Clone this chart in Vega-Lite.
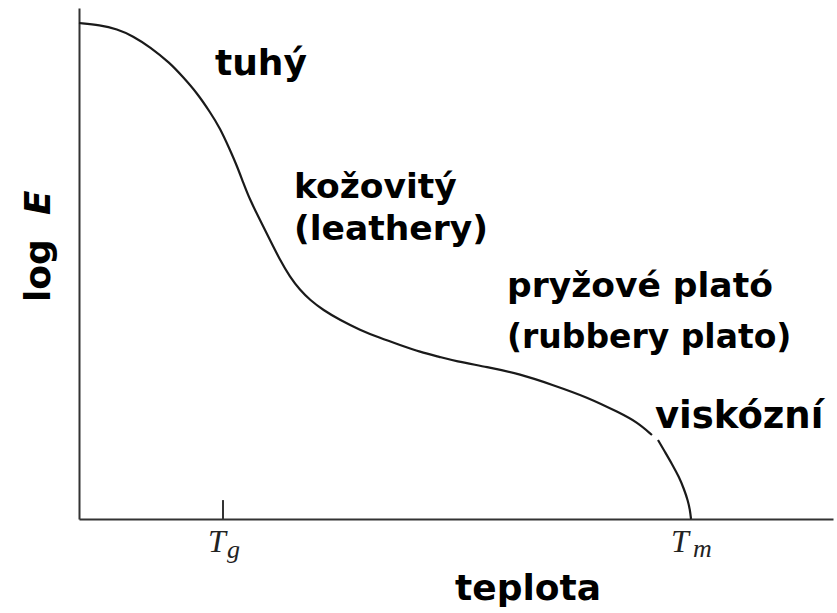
{
  "$schema": "https://vega.github.io/schema/vega-lite/v6.json",
  "width": 754,
  "height": 511,
  "autosize": "none",
  "padding": {"left": 79, "top": 8, "right": 4, "bottom": 94},
  "background": "white",
  "config": {"view": {"stroke": null}, "font": "DejaVu Sans"},
  "datasets": {
    "curve": [
      {"seg": "a", "t": 0, "logE": 97.06},
      {"seg": "a", "t": 2.79, "logE": 96.67},
      {"seg": "a", "t": 5.04, "logE": 95.89},
      {"seg": "a", "t": 7.16, "logE": 94.52},
      {"seg": "a", "t": 9.42, "logE": 92.37},
      {"seg": "a", "t": 12.07, "logE": 89.24},
      {"seg": "a", "t": 13.79, "logE": 86.5},
      {"seg": "a", "t": 15.65, "logE": 83.37},
      {"seg": "a", "t": 17.37, "logE": 79.65},
      {"seg": "a", "t": 18.7, "logE": 76.52},
      {"seg": "a", "t": 20.03, "logE": 72.21},
      {"seg": "a", "t": 20.95, "logE": 69.08},
      {"seg": "a", "t": 21.75, "logE": 65.95},
      {"seg": "a", "t": 22.68, "logE": 62.43},
      {"seg": "a", "t": 24.01, "logE": 58.51},
      {"seg": "a", "t": 25.33, "logE": 54.6},
      {"seg": "a", "t": 26.66, "logE": 50.68},
      {"seg": "a", "t": 27.98, "logE": 47.36},
      {"seg": "a", "t": 29.31, "logE": 44.81},
      {"seg": "a", "t": 30.64, "logE": 42.86},
      {"seg": "a", "t": 32.36, "logE": 40.9},
      {"seg": "a", "t": 34.62, "logE": 38.94},
      {"seg": "a", "t": 37.27, "logE": 36.99},
      {"seg": "a", "t": 39.92, "logE": 35.42},
      {"seg": "a", "t": 42.57, "logE": 34.05},
      {"seg": "a", "t": 45.23, "logE": 32.68},
      {"seg": "a", "t": 47.88, "logE": 31.7},
      {"seg": "a", "t": 49.87, "logE": 30.92},
      {"seg": "a", "t": 54.11, "logE": 29.75},
      {"seg": "a", "t": 58.49, "logE": 28.38},
      {"seg": "a", "t": 62.86, "logE": 26.22},
      {"seg": "a", "t": 67.37, "logE": 23.87},
      {"seg": "a", "t": 71.75, "logE": 20.74},
      {"seg": "a", "t": 73.99, "logE": 18.98},
      {"seg": "a", "t": 75.99, "logE": 16.44},
      {"seg": "b", "t": 76.79, "logE": 15.46},
      {"seg": "b", "t": 77.72, "logE": 13.11},
      {"seg": "b", "t": 78.65, "logE": 10.76},
      {"seg": "b", "t": 79.58, "logE": 8.22},
      {"seg": "b", "t": 80.24, "logE": 5.87},
      {"seg": "b", "t": 80.77, "logE": 3.52},
      {"seg": "b", "t": 81.03, "logE": 1.76},
      {"seg": "b", "t": 81.17, "logE": 0}
    ],
    "ticks": [
      {"name": "Tg", "t": 19.1, "lo": 0, "hi": 3.7}
    ],
    "labels": [
      {"id": "tuhy", "text": "tuhý", "t": 18.04, "logE": 86.89},
      {"id": "kozovity", "text": "kožovitý", "t": 28.51, "logE": 62.82},
      {"id": "leathery", "text": "(leathery)", "t": 28.51, "logE": 54.6},
      {"id": "pryzove", "text": "pryžové plató", "t": 56.76, "logE": 43.44},
      {"id": "rubbery", "text": "(rubbery plato)", "t": 56.76, "logE": 33.46},
      {"id": "viskozni", "text": "viskózní", "t": 76.39, "logE": 17.81},
      {"id": "teplota", "text": "teplota", "t": 49.87, "logE": -15.85},
      {"id": "log", "text": "log", "t": -3.85, "logE": 42.47},
      {"id": "E", "text": "E", "t": -3.85, "logE": 59.49},
      {"id": "T1", "text": "T", "t": 17.1, "logE": -6.46},
      {"id": "g", "text": "g", "t": 19.63, "logE": -7.63},
      {"id": "T2", "text": "T", "t": 78.5, "logE": -6.46},
      {"id": "m", "text": "m", "t": 81.43, "logE": -7.44}
    ]
  },
  "encoding": {
    "x": {"field": "t", "type": "quantitative", "scale": {"domain": [0, 100], "nice": false, "zero": false},
      "axis": {"title": null, "labels": false, "ticks": false, "grid": false, "domainColor": "#333333", "domainWidth": 2}},
    "y": {"field": "logE", "type": "quantitative", "scale": {"domain": [0, 100], "nice": false, "zero": false},
      "axis": {"title": null, "labels": false, "ticks": false, "grid": false, "domainColor": "#333333", "domainWidth": 2}}
  },
  "layer": [
    {
      "data": {"name": "curve"},
      "mark": {"type": "line", "interpolate": "basis", "color": "#1a1a1a", "strokeWidth": 2.2},
      "encoding": {"detail": {"field": "seg", "type": "nominal"}}
    },
    {
      "data": {"name": "ticks"},
      "mark": {"type": "rule", "color": "#333333", "strokeWidth": 2},
      "encoding": {"y": {"field": "lo", "type": "quantitative"}, "y2": {"field": "hi"}}
    },
    {
      "data": {"name": "labels"},
      "transform": [{"filter": "datum.id === 'tuhy' || datum.id === 'teplota'"}],
      "mark": {"type": "text", "font": "DejaVu Sans", "fontWeight": "bold", "fontSize": 36, "align": "left", "baseline": "alphabetic", "color": "black"},
      "encoding": {"text": {"field": "text"}, "align": {"condition": {"test": "datum.id === 'teplota'", "value": "center"}, "value": "left"}}
    },
    {
      "data": {"name": "labels"},
      "transform": [{"filter": "datum.id === 'kozovity' || datum.id === 'leathery' || datum.id === 'pryzove'"}],
      "mark": {"type": "text", "font": "DejaVu Sans", "fontWeight": "bold", "fontSize": 34.5, "align": "left", "baseline": "alphabetic", "color": "black"},
      "encoding": {"text": {"field": "text"}}
    },
    {
      "data": {"name": "labels"},
      "transform": [{"filter": "datum.id === 'rubbery'"}],
      "mark": {"type": "text", "font": "DejaVu Sans", "fontWeight": "bold", "fontSize": 33, "align": "left", "baseline": "alphabetic", "color": "black"},
      "encoding": {"text": {"field": "text"}}
    },
    {
      "data": {"name": "labels"},
      "transform": [{"filter": "datum.id === 'viskozni'"}],
      "mark": {"type": "text", "font": "DejaVu Sans", "fontWeight": "bold", "fontSize": 37, "align": "left", "baseline": "alphabetic", "color": "black"},
      "encoding": {"text": {"field": "text"}}
    },
    {
      "data": {"name": "labels"},
      "transform": [{"filter": "datum.id === 'log'"}],
      "mark": {"type": "text", "font": "DejaVu Sans", "fontWeight": "bold", "fontSize": 36, "angle": 270, "align": "left", "baseline": "alphabetic", "color": "black"},
      "encoding": {"text": {"field": "text"}}
    },
    {
      "data": {"name": "labels"},
      "transform": [{"filter": "datum.id === 'E'"}],
      "mark": {"type": "text", "font": "DejaVu Sans", "fontWeight": "bold", "fontStyle": "italic", "fontSize": 36, "angle": 270, "align": "left", "baseline": "alphabetic", "color": "black"},
      "encoding": {"text": {"field": "text"}}
    },
    {
      "data": {"name": "labels"},
      "transform": [{"filter": "datum.id === 'T1' || datum.id === 'T2'"}],
      "mark": {"type": "text", "font": "Liberation Serif", "fontStyle": "italic", "fontSize": 32, "align": "left", "baseline": "alphabetic", "color": "#222222"},
      "encoding": {"text": {"field": "text"}}
    },
    {
      "data": {"name": "labels"},
      "transform": [{"filter": "datum.id === 'g' || datum.id === 'm'"}],
      "mark": {"type": "text", "font": "Liberation Serif", "fontStyle": "italic", "fontSize": 26, "align": "left", "baseline": "alphabetic", "color": "#222222"},
      "encoding": {"text": {"field": "text"}}
    }
  ]
}
